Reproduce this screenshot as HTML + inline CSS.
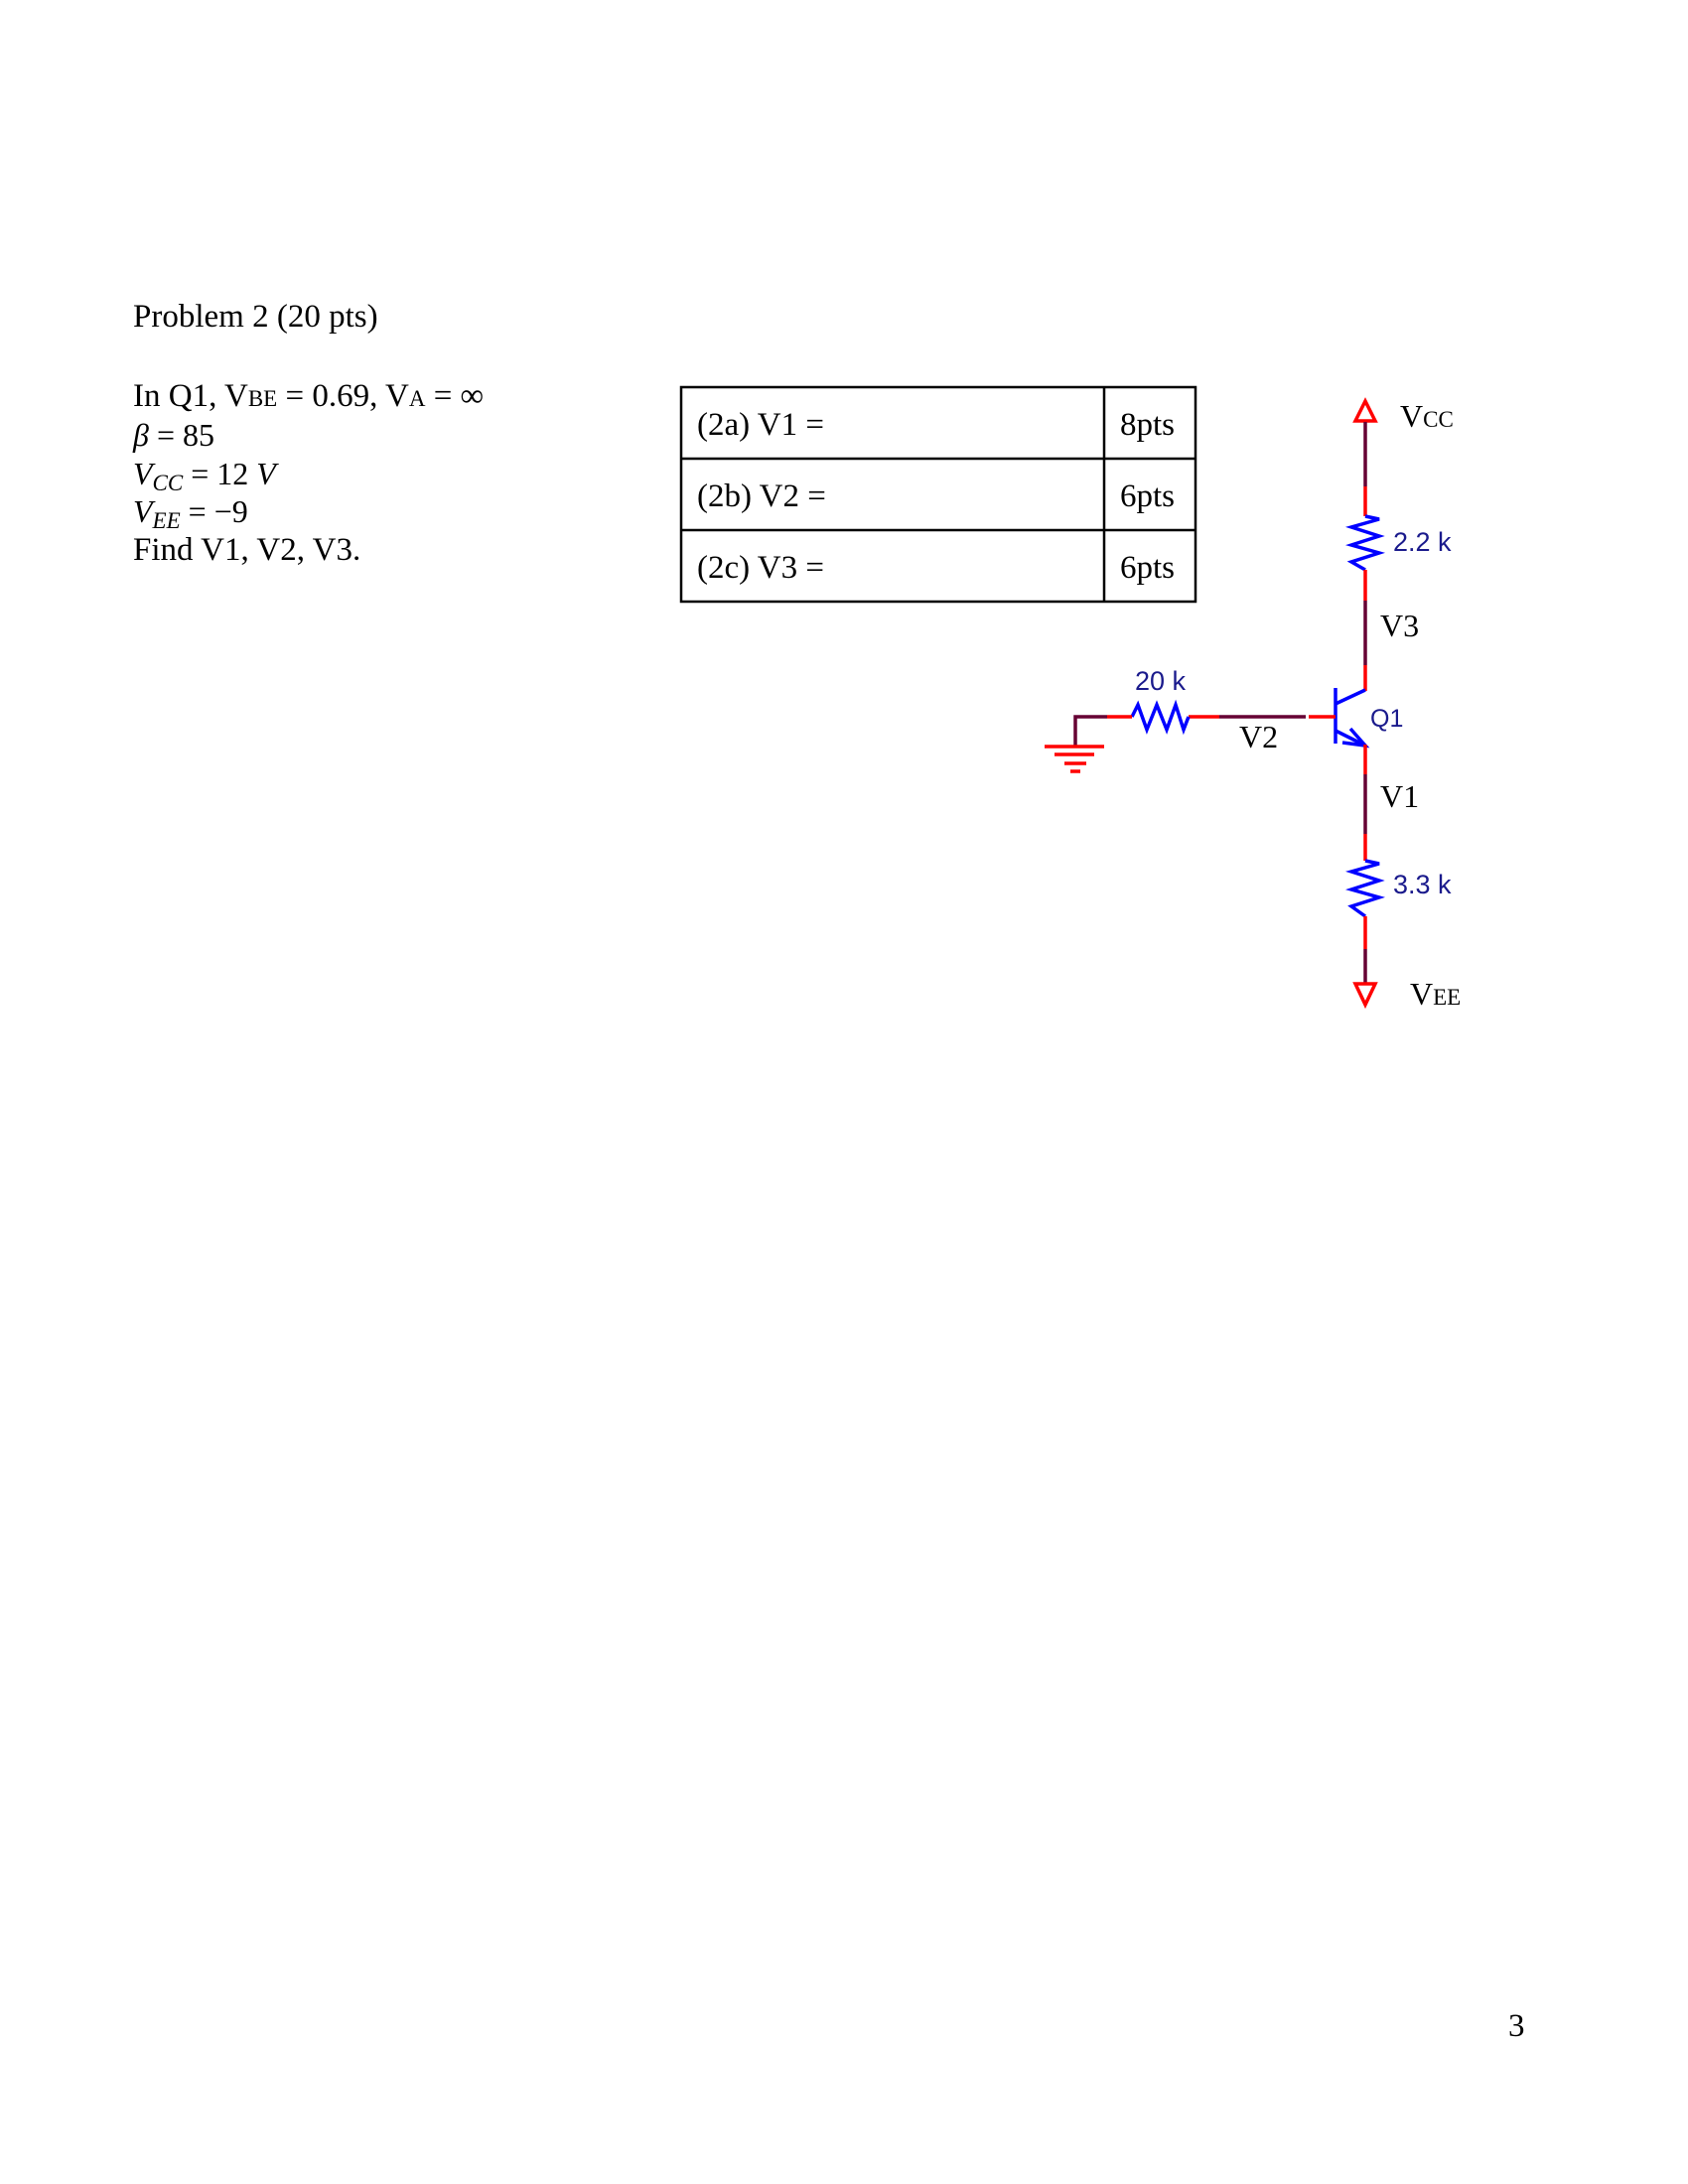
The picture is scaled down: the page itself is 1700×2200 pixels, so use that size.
<!DOCTYPE html>
<html><head><meta charset="utf-8"><style>
html,body{margin:0;padding:0;background:#fff}
svg{display:block}
.t{font-family:"Liberation Serif",serif;fill:#000}
.s{font-family:"Liberation Sans",sans-serif;fill:#1a1a8c}
</style></head><body>
<svg width="1700" height="2200" viewBox="0 0 1700 2200" xmlns="http://www.w3.org/2000/svg">
<text class="t" x="134" y="329" font-size="33">Problem 2 (20 pts)</text>
<text class="t" x="134" y="409" font-size="33">In Q1, V<tspan font-size="23">BE</tspan> = 0.69, V<tspan font-size="23">A</tspan> = ∞</text>
<text class="t" x="134" y="449" font-size="32"><tspan font-style="italic">β</tspan> = 85</text>
<text class="t" x="134" y="488" font-size="32"><tspan font-style="italic">V</tspan><tspan font-style="italic" font-size="23" dy="6">CC</tspan><tspan dy="-6"> = 12 </tspan><tspan font-style="italic">V</tspan></text>
<text class="t" x="134" y="526" font-size="32"><tspan font-style="italic">V</tspan><tspan font-style="italic" font-size="23" dy="6">EE</tspan><tspan dy="-6"> = −9</tspan></text>
<text class="t" x="134" y="564" font-size="33">Find V1, V2, V3.</text>

<g stroke="#000" stroke-width="2.5" fill="none">
<rect x="686" y="390" width="518" height="216"/>
<line x1="686" y1="462" x2="1204" y2="462"/>
<line x1="686" y1="534" x2="1204" y2="534"/>
<line x1="1112" y1="390" x2="1112" y2="606"/>
</g>
<text class="t" x="702" y="438" font-size="33">(2a) V1 =</text>
<text class="t" x="702" y="510" font-size="33">(2b) V2 =</text>
<text class="t" x="702" y="582" font-size="33">(2c) V3 =</text>
<text class="t" x="1128" y="438" font-size="33">8pts</text>
<text class="t" x="1128" y="510" font-size="33">6pts</text>
<text class="t" x="1128" y="582" font-size="33">6pts</text>

<g fill="none" stroke-width="3.5">
<path d="M1365 424 L1375 404 L1385 424 Z" stroke="#f00"/>
<line x1="1375" y1="425" x2="1375" y2="490" stroke="#660033"/>
<line x1="1375" y1="490" x2="1375" y2="520" stroke="#f00"/>
<path d="M1375 520 L1389 523 L1361 531 L1389 540 L1361 549 L1389 557 L1361 566 L1375 574" stroke="#00f"/>
<line x1="1375" y1="574" x2="1375" y2="605" stroke="#f00"/>
<line x1="1375" y1="605" x2="1375" y2="670" stroke="#660033"/>
<line x1="1375" y1="670" x2="1375" y2="696" stroke="#f00"/>
<line x1="1345" y1="693" x2="1345" y2="749" stroke="#00f"/>
<line x1="1345" y1="709" x2="1375" y2="695" stroke="#00f"/>
<line x1="1345" y1="736" x2="1375" y2="751" stroke="#00f"/>
<path d="M1360 734 L1375 751 L1352 748" stroke="#00f"/>
<line x1="1375" y1="750" x2="1375" y2="780" stroke="#f00"/>
<line x1="1375" y1="780" x2="1375" y2="840" stroke="#660033"/>
<line x1="1375" y1="840" x2="1375" y2="867" stroke="#f00"/>
<path d="M1375 867 L1389 870 L1361 878 L1389 887 L1361 896 L1389 904 L1361 913 L1375 923" stroke="#00f"/>
<line x1="1375" y1="923" x2="1375" y2="956" stroke="#f00"/>
<line x1="1375" y1="956" x2="1375" y2="990" stroke="#660033"/>
<path d="M1365 991 L1375 1012 L1385 991 Z" stroke="#f00"/>
<line x1="1318" y1="722" x2="1345" y2="722" stroke="#f00"/>
<line x1="1228" y1="722" x2="1315" y2="722" stroke="#660033"/>
<line x1="1197" y1="722" x2="1228" y2="722" stroke="#f00"/>
<path d="M1140 722 L1146 710 L1155 735 L1165 710 L1175 735 L1184 710 L1192 735 L1197 722" stroke="#00f"/>
<line x1="1115" y1="722" x2="1140" y2="722" stroke="#f00"/>
<path d="M1115 722 L1083 722 L1083 752" stroke="#660033"/>
<line x1="1052" y1="752" x2="1112" y2="752" stroke="#f00"/>
<line x1="1062" y1="760" x2="1102" y2="760" stroke="#f00"/>
<line x1="1072" y1="769" x2="1094" y2="769" stroke="#f00"/>
<line x1="1078" y1="777" x2="1088" y2="777" stroke="#f00"/>
</g>
<text class="t" x="1410" y="430" font-size="32">V<tspan font-size="23">CC</tspan></text>
<text class="s" x="1403" y="555" font-size="27">2.2 k</text>
<text class="t" x="1390" y="641" font-size="32">V3</text>
<text class="s" x="1143" y="695" font-size="27">20 k</text>
<text class="s" x="1380" y="732" font-size="25">Q1</text>
<text class="t" x="1248" y="753" font-size="32">V2</text>
<text class="t" x="1390" y="813" font-size="32">V1</text>
<text class="s" x="1403" y="900" font-size="27">3.3 k</text>
<text class="t" x="1420" y="1012" font-size="32">V<tspan font-size="23">EE</tspan></text>
<text class="t" x="1519" y="2051" font-size="33">3</text>
</svg>
</body></html>
